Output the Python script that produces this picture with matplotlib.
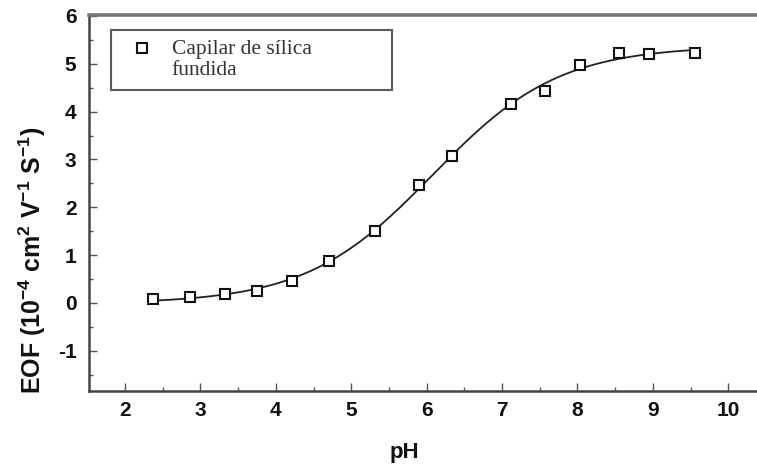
import numpy as np
import matplotlib
matplotlib.use("Agg")
import matplotlib.pyplot as plt
from matplotlib.ticker import MultipleLocator

plt.rcParams["axes.unicode_minus"] = False
plt.rcParams["mathtext.fontset"] = "custom"
plt.rcParams["mathtext.rm"] = "Liberation Sans:bold"
plt.rcParams["mathtext.default"] = "rm"

# measured electroosmotic flow vs pH, fused silica capillary
ph = [2.37, 2.86, 3.33, 3.75, 4.22, 4.71, 5.32, 5.90, 6.33, 7.12, 7.57, 8.03, 8.55, 8.95, 9.56]
eof = [0.08, 0.13, 0.19, 0.26, 0.46, 0.88, 1.50, 2.47, 3.07, 4.16, 4.44, 4.97, 5.22, 5.20, 5.23]

series_label = "Capilar de sílica\nfundida"


def boltzmann_fit(x, y):
    # grid search on centre/width, linear least squares for the two plateaus
    x = np.asarray(x)
    y = np.asarray(y)
    best = None
    for x0 in np.arange(5.0, 7.5, 0.01):
        for dx in np.arange(0.3, 1.6, 0.01):
            s = 1.0 / (1.0 + np.exp((x - x0) / dx))
            A = np.column_stack([s, 1.0 - s])
            coef = np.linalg.lstsq(A, y, rcond=None)[0]
            err = np.sum((A @ coef - y) ** 2)
            if best is None or err < best[0]:
                best = (err, coef[0], coef[1], x0, dx)
    _, a1, a2, x0, dx = best
    return lambda t: a2 + (a1 - a2) / (1.0 + np.exp((t - x0) / dx))


fit = boltzmann_fit(ph, eof)
xs = np.linspace(min(ph), max(ph), 300)

W, H = 757, 466
fig = plt.figure(figsize=(W / 100, H / 100), dpi=100)
ax = fig.add_axes([89 / W, (H - 391) / H, 677 / W, 376 / H])

ax.plot(xs, fit(xs), color="#222222", lw=1.3, zorder=2)
ax.plot(ph, eof, linestyle="none", marker="s", ms=7, mfc="white",
        mec="#111111", mew=1.5, label=series_label, zorder=3)

ax.set_xlim(1.523, 10.5)
ax.set_ylim(-1.84, 6.02)
ax.xaxis.set_minor_locator(MultipleLocator(0.5))
ax.yaxis.set_minor_locator(MultipleLocator(0.5))
ax.set_xticks(range(2, 11))
ax.set_yticks(range(-1, 7))

ax.tick_params(which="major", direction="in", length=6, width=1.0,
               color="#555555", labelsize=15, pad=7)
ax.tick_params(which="minor", direction="in", length=3, width=1.0, color="#555555")
ax.tick_params(axis="y", pad=9)
for lab in ax.get_xticklabels() + ax.get_yticklabels():
    lab.set_fontfamily("Liberation Sans")
    lab.set_fontweight("bold")
    lab.set_color("#111111")

for side in ["left", "bottom"]:
    ax.spines[side].set_color("#444444")
    ax.spines[side].set_linewidth(1.8)
ax.spines["top"].set_color("#777777")
ax.spines["top"].set_linewidth(2.6)
ax.spines["right"].set_color("#777777")

ax.set_xlabel("pH", fontfamily="Liberation Sans", fontweight="bold",
              fontsize=16, color="#111111")
ax.xaxis.set_label_coords((404 - 89) / 677, -(442 - 391) / 376)
ax.set_ylabel("EOF (10$^{-4}$ cm$^{2}$ V$^{-1}$ S$^{-1}$)",
              fontfamily="Liberation Sans", fontweight="bold", fontsize=18,
              color="#111111")
ax.yaxis.set_label_coords(-(89 - 48) / 677, (391 - 260) / 376)

leg = ax.legend(loc="upper left", bbox_to_anchor=(110.7 / W, 0.5, 281 / W, (H - 30) / H - 0.5),
                bbox_transform=fig.transFigure, mode="expand", borderaxespad=0,
                fancybox=False, frameon=True, handlelength=1.98, handletextpad=0.40,
                borderpad=0.45, prop={"family": "Liberation Serif", "size": 15.5})
leg.get_frame().set_edgecolor("#333333")
leg.get_frame().set_linewidth(1.5)
for t in leg.get_texts():
    t.set_color("#333333")
    t.set_linespacing(1.2)
# put the legend marker beside the first line of the label
mark = leg.legend_handles[0]
mark.set_ydata(np.asarray(mark.get_ydata()) + 8.6)

fig.savefig("out.png", dpi=100)
